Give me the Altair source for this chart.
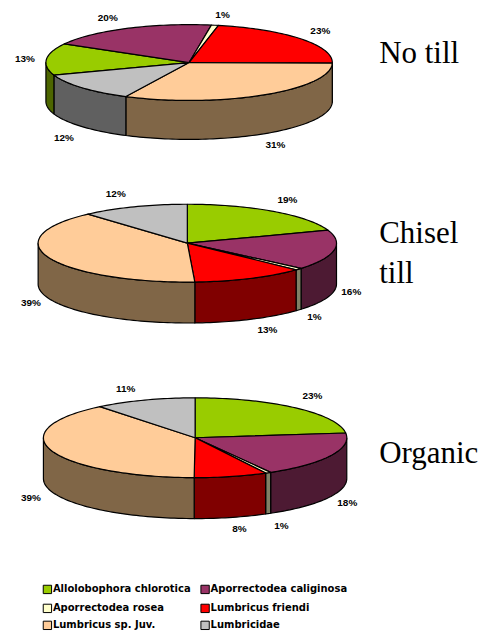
import math
import altair as alt
import pandas as pd

categories = ["Allolobophora chlorotica", "Aporrectodea caliginosa", "Aporrectodea rosea",
              "Lumbricus friendi", "Lumbricus sp. Juv.", "Lumbricidae"]
top_colors = ["#99cc00", "#993366", "#ffffcc", "#ff0000", "#ffcc99", "#c0c0c0"]
side_colors = ["#4d6600", "#4d1a33", "#808066", "#800000", "#806647", "#606060"]

no_till_values = [13.6, 19.3, 0.8, 22.0, 32.0, 12.3]
chisel_values = [19.6, 16.6, 0.8, 12.2, 39.2, 11.6]
organic_values = [23.1, 18.6, 0.6, 7.8, 39.1, 10.8]
no_till_labels = ["13%", "20%", "1%", "23%", "31%", "12%"]
chisel_labels = ["19%", "16%", "1%", "13%", "39%", "12%"]
organic_labels = ["23%", "18%", "1%", "8%", "39%", "11%"]

# pie name, values, labels, first-slice angle, centre x, centre y, radius x, radius y, depth, label centres
pies = [
    ("No till", no_till_values, no_till_labels, 250.5, 189.5, 61, 143.5, 38, 39,
     [(25, 57), (108, 16), (223, 13), (321, 29), (276, 144), (64, 137)]),
    ("Chisel till", chisel_values, chisel_labels, 0, 187.7, 242, 149.5, 39, 41,
     [(288, 199), (352, 291), (315, 316), (268, 329), (31, 302), (116, 193)]),
    ("Organic", organic_values, organic_labels, 0, 195.5, 437, 152, 40, 41,
     [(313, 395), (348, 502), (282, 525), (240, 528), (31, 497), (126, 388)]),
]
titles = [("No till", 380, 52), ("Chisel", 380, 233), ("till", 380, 273), ("Organic", 380, 453)]
legend_x = [(43, 53), (201, 211)]
legend_y = [589, 608, 625]


def pt(a, cx, cy, rx, ry, dz=0):
    r = math.radians(a)
    return cx + rx * math.sin(r), cy - ry * math.cos(r) + dz


def arc(a0, a1):
    n = max(2, int(abs(a1 - a0) / 1.5) + 1)
    return [a0 + (a1 - a0) * i / n for i in range(n + 1)]


rows, text_rows = [], []
sid = 0


def add(points, fill, layer):
    global sid
    sid += 1
    for i, (x, y) in enumerate(points + points[:1]):
        rows.append(dict(x=x, y=y, o=i, sid=f"{layer}{sid:03d}", fill=fill, layer=layer))


for name, vals, labs, start, cx, cy, rx, ry, depth, lab_pos in pies:
    a = start
    for v, lab, top, side, pos in zip(vals, labs, top_colors, side_colors, lab_pos):
        b = a + v * 3.6
        add([(cx, cy)] + [pt(t, cx, cy, rx, ry) for t in arc(a, b)], top, "b")
        for shift in (0, 360):
            lo, hi = max(a, 90 + shift), min(b, 270 + shift)
            if hi > lo:
                ts = arc(lo, hi)
                add([pt(t, cx, cy, rx, ry) for t in ts] +
                    [pt(t, cx, cy, rx, ry, depth) for t in reversed(ts)], side, "a")
        text_rows.append(dict(x=pos[0], y=pos[1], t=lab))
        a = b

df = pd.DataFrame(rows)
x_scale = alt.Scale(domain=[8, 479], nice=False, zero=False)
y_scale = alt.Scale(domain=[8, 624], reverse=True, nice=False, zero=False)
X = alt.X("x:Q", axis=None, scale=x_scale)
Y = alt.Y("y:Q", axis=None, scale=y_scale)

slices = []
for layer in ("a", "b"):
    slices.append(
        alt.Chart(df[df.layer == layer]).mark_line(stroke="black", strokeWidth=1.2, strokeJoin="round").encode(
            x=X, y=Y, order="o:Q", detail="sid:N",
            fill=alt.Fill("fill:N", scale=None))
    )

labels = alt.Chart(pd.DataFrame(text_rows)).mark_text(
    font="Liberation Sans", fontWeight="bold", fontSize=10, color="black",
    align="center", baseline="middle").encode(x=X, y=Y, text="t:N")

title_marks = alt.Chart(pd.DataFrame(titles, columns=["t", "x", "y"])).mark_text(
    font="Liberation Serif", fontSize=31, color="black", align="left", baseline="middle"
).encode(x=X, y=Y, text="t:N")

leg = []
for i, (c, col) in enumerate(zip(categories, top_colors)):
    leg.append(dict(t=c, fill=col, sx=legend_x[i % 2][0] + 4.5, tx=legend_x[i % 2][1],
                    y=legend_y[i // 2]))
leg = pd.DataFrame(leg)
leg_sw = alt.Chart(leg).mark_square(size=70, stroke="black", strokeWidth=1, opacity=1).encode(
    x=alt.X("sx:Q", axis=None, scale=x_scale), y=Y, fill=alt.Fill("fill:N", scale=None))
leg_tx = alt.Chart(leg).mark_text(
    font="DejaVu Sans", fontWeight="bold", fontSize=10, color="black",
    align="left", baseline="middle").encode(
    x=alt.X("tx:Q", axis=None, scale=x_scale), y=Y, text="t:N")

chart = alt.layer(*slices, labels, title_marks, leg_sw, leg_tx).properties(
    width=471, height=616, padding=0
).configure_view(stroke=None)
chart.save("out.html", embed_options={"renderer": "svg", "actions": False})
